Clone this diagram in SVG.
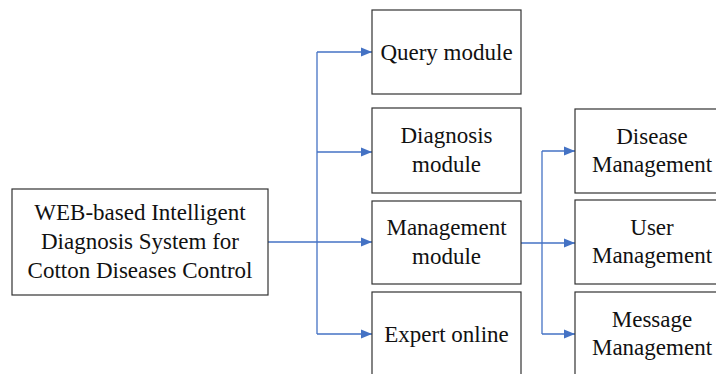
<svg xmlns="http://www.w3.org/2000/svg" width="716" height="374" viewBox="0 0 716 374">
<style>
.box{fill:#fff;stroke:#333;stroke-width:1.2}
.t{font-family:"Liberation Serif","Times New Roman",serif;font-size:23px;fill:#111;text-anchor:middle}
.c{fill:none;stroke:#4472C4;stroke-width:1.3}
</style>
<defs>
<marker id="ah" markerUnits="userSpaceOnUse" markerWidth="12" markerHeight="10" refX="11" refY="5" orient="auto">
<path d="M0,0.5 L11,5 L0,9.5 Z" fill="#4472C4"/>
</marker>
</defs>
<rect width="716" height="374" fill="#fff"/>
<g id="connectors">
<path class="c" d="M317,52 V334"/>
<path class="c" d="M317,52 H372" marker-end="url(#ah)"/>
<path class="c" d="M317,152 H372" marker-end="url(#ah)"/>
<path class="c" d="M268,242 H372" marker-end="url(#ah)"/>
<path class="c" d="M317,334 H372" marker-end="url(#ah)"/>
<path class="c" d="M542,151 V334"/>
<path class="c" d="M542,151 H575" marker-end="url(#ah)"/>
<path class="c" d="M521,243 H575" marker-end="url(#ah)"/>
<path class="c" d="M542,334 H575" marker-end="url(#ah)"/>
</g>
<g id="main">
<rect class="box" x="12" y="189" width="256" height="106"/>
<text class="t" x="140" y="220">WEB-based Intelligent</text>
<text class="t" x="140" y="249">Diagnosis System for</text>
<text class="t" x="140" y="278">Cotton Diseases Control</text>
</g>
<g id="query">
<rect class="box" x="372" y="10" width="149" height="84"/>
<text class="t" x="446.5" y="60">Query module</text>
</g>
<g id="diagnosis">
<rect class="box" x="372" y="108" width="149" height="85"/>
<text class="t" x="446.5" y="143">Diagnosis</text>
<text class="t" x="446.5" y="172">module</text>
</g>
<g id="management">
<rect class="box" x="372" y="201" width="149" height="83"/>
<text class="t" x="446.5" y="235">Management</text>
<text class="t" x="446.5" y="264">module</text>
</g>
<g id="expert">
<rect class="box" x="372" y="292" width="149" height="86"/>
<text class="t" x="446.5" y="342">Expert online</text>
</g>
<g id="disease">
<rect class="box" x="575" y="109" width="160" height="84"/>
<text class="t" x="652" y="144">Disease</text>
<text class="t" x="652" y="172">Management</text>
</g>
<g id="user">
<rect class="box" x="575" y="200" width="160" height="84"/>
<text class="t" x="652" y="235">User</text>
<text class="t" x="652" y="263">Management</text>
</g>
<g id="message">
<rect class="box" x="575" y="292" width="160" height="86"/>
<text class="t" x="652" y="327">Message</text>
<text class="t" x="652" y="355">Management</text>
</g>
</svg>
